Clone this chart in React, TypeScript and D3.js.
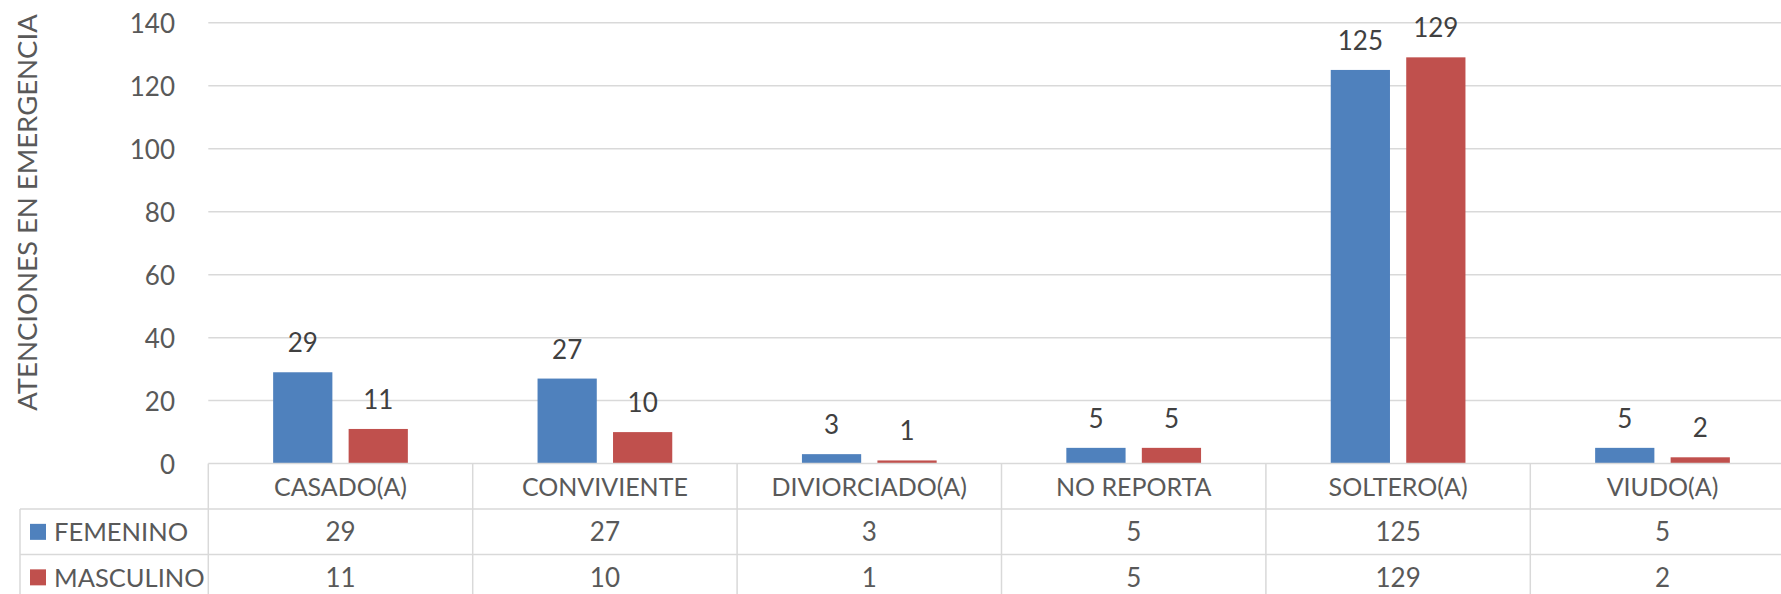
import React from "react";
import * as d3 from "d3";

const categories = ["CASADO(A)", "CONVIVIENTE", "DIVIORCIADO(A)", "NO REPORTA", "SOLTERO(A)", "VIUDO(A)"];
const seriesNames = ["FEMENINO", "MASCULINO"];
const femenino = [29, 27, 3, 5, 125, 5];
const masculino = [11, 10, 1, 5, 129, 2];
const yTicks = [0, 20, 40, 60, 80, 100, 120, 140];
const seriesColors = ["#4F81BD", "#C0504D"];
const yTitle = "ATENCIONES EN EMERGENCIA";

const W = 1781;
const H = 594;
const FONT = "Lato, 'Noto Sans', sans-serif";

export default function App() {
  const plotLeft = 208.3;
  const catW = 264.4;
  const plotRight = plotLeft + catW * categories.length;
  const y0 = 463.6;
  const yTop = 22.7;
  const rowH = 45.5;
  const legendLeft = 20;

  const x = d3.scaleBand<string>().domain(categories).range([plotLeft, plotRight]).padding(0);
  const xs = d3
    .scaleBand<string>()
    .domain(seriesNames)
    .range([0, catW])
    .paddingInner(0.2153)
    .paddingOuter(0.859);
  const y = d3.scaleLinear().domain([0, 140]).range([y0, yTop]);

  const series = [femenino, masculino];
  const grid = "#d9d9d9";

  return (
    <svg
      width={W}
      height={H}
      style={{ position: "absolute", left: 0, top: 0, background: "#fff" }}
      fontFamily={FONT}
    >
      <rect x={0} y={0} width={W} height={H} fill="#fff" />
      {yTicks.filter((t) => t > 0).map((t) => (
        <line key={t} x1={plotLeft} x2={W} y1={y(t)} y2={y(t)} stroke={grid} strokeWidth={1.5} />
      ))}
      {yTicks.map((t) => (
        <text key={t} x={175} y={y(t) + 10} textAnchor="end" fontSize={26} fill="#595959">
          {t}
        </text>
      ))}
      <text
        transform={`translate(37.3, 212.5) rotate(-90)`}
        textAnchor="middle"
        fontSize={27.5}
        fill="#595959"
      >
        {yTitle}
      </text>
      {series.map((vals, si) =>
        vals.map((v, ci) => {
          const bx = (x(categories[ci]) as number) + (xs(seriesNames[si]) as number);
          return (
            <g key={`${si}-${ci}`}>
              <rect x={bx} y={y(v)} width={xs.bandwidth()} height={y0 - y(v)} fill={seriesColors[si]} />
              <text
                x={bx + xs.bandwidth() / 2}
                y={y(v) - 20}
                textAnchor="middle"
                fontSize={26}
                fill="#404040"
              >
                {v}
              </text>
            </g>
          );
        })
      )}
      <line x1={plotLeft} x2={W} y1={y0} y2={y0} stroke={grid} strokeWidth={1.5} />
      <line x1={legendLeft} x2={W} y1={y0 + rowH} y2={y0 + rowH} stroke={grid} strokeWidth={1.5} />
      <line x1={legendLeft} x2={W} y1={y0 + rowH * 2} y2={y0 + rowH * 2} stroke={grid} strokeWidth={1.5} />
      <line x1={legendLeft} x2={legendLeft} y1={y0 + rowH} y2={H} stroke={grid} strokeWidth={1.5} />
      {categories.map((c) => (
        <line
          key={c}
          x1={x(c) as number}
          x2={x(c) as number}
          y1={y0}
          y2={H}
          stroke={grid}
          strokeWidth={1.5}
        />
      ))}
      {categories.map((c) => (
        <text
          key={c}
          x={(x(c) as number) + x.bandwidth() / 2}
          y={y0 + 32}
          textAnchor="middle"
          fontSize={25}
          fill="#595959"
        >
          {c}
        </text>
      ))}
      {series.map((vals, si) => {
        const cy = y0 + rowH * (si + 1) + rowH / 2;
        return (
          <g key={si}>
            <rect x={30} y={cy - 8} width={16} height={16} fill={seriesColors[si]} />
            <text x={54} y={cy + 9.5} fontSize={25.5} fill="#595959">
              {seriesNames[si]}
            </text>
            {vals.map((v, ci) => (
              <text
                key={ci}
                x={(x(categories[ci]) as number) + x.bandwidth() / 2}
                y={cy + 9.5}
                textAnchor="middle"
                fontSize={26}
                fill="#595959"
              >
                {v}
              </text>
            ))}
          </g>
        );
      })}
    </svg>
  );
}
